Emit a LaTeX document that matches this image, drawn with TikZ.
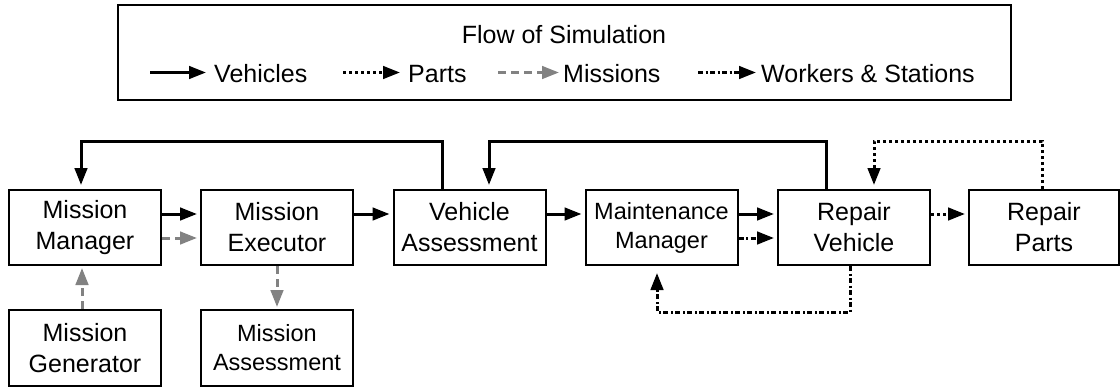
\documentclass[tikz,border=0pt]{standalone}
\usepackage{fontspec}
\setmainfont{Liberation Sans}
\usetikzlibrary{arrows.meta}
\definecolor{mgray}{RGB}{130,130,130}
\begin{document}
\begin{tikzpicture}[x=1pt,y=-1pt,
  box/.style={draw,line width=2pt,minimum width=152pt,minimum height=75pt,inner sep=0pt,align=center,font=\fontsize{25}{31}\selectfont},
  sbox/.style={box,font=\fontsize{23.5}{29}\selectfont},
  flow/.style={line width=3pt,-{Triangle[length=17pt,width=12.5pt]}},
  veh/.style={flow},
  parts/.style={flow,dash pattern=on 3pt off 3pt},
  miss/.style={flow,mgray,dash pattern=on 8pt off 5pt},
  work/.style={flow,dash pattern=on 5pt off 2.5pt on 2pt off 2.5pt},
  lab/.style={anchor=base west,inner sep=0pt,font=\fontsize{25}{31}\selectfont}]
\useasboundingbox (0,0) rectangle (1120,388);
% legend
\node[draw,line width=2pt,minimum width=893pt,minimum height=95pt,inner sep=0pt] (legend) at (564.5,52.5) {};
\node[anchor=base,inner sep=0pt,font=\fontsize{25}{31}\selectfont] (title) at (564,43) {Flow of Simulation};
\coordinate (v1) at (150,72.5); \coordinate (v2) at (206,72.5);
\coordinate (p1) at (343,72.5); \coordinate (p2) at (400,72.5);
\coordinate (m1) at (498,72.5); \coordinate (m2) at (559,72.5);
\coordinate (w1) at (698,72.5); \coordinate (w2) at (756,72.5);
\draw[veh] (v1) -- (v2);
\draw[parts] (p1) -- (p2);
\draw[miss] (m1) -- (m2);
\draw[work] (w1) -- (w2);
\node[lab] (lv) at (214,82) {Vehicles};
\node[lab] (lp) at (408,82) {Parts};
\node[lab] (lm) at (563,82) {Missions};
\node[lab] (lw) at (761,82) {Workers \& Stations};
% boxes
\node[box] (MM) at (85,227.5) {Mission\\Manager};
\node[box] (ME) at (277,227.5) {Mission\\Executor};
\node[box] (VA) at (469.5,227.5) {Vehicle\\Assessment};
\node[sbox] (MtM) at (661.5,227.5) {Maintenance\\Manager};
\node[box] (RV) at (854,227.5) {Repair\\Vehicle};
\node[box,minimum width=150pt] (RP) at (1044,227.5) {Repair\\Parts};
\node[box,minimum height=76pt] (MG) at (85,348) {Mission\\Generator};
\node[sbox,minimum height=76pt] (MA) at (277,348) {Mission\\Assessment};
% horizontal flows
\draw[veh,shorten >=3pt] ([yshift=13.5pt]MM.east) -- ([yshift=13.5pt]ME.west);
\draw[miss,shorten >=3pt] ([yshift=-10.5pt]MM.east) -- ([yshift=-10.5pt]ME.west);
\draw[veh,shorten >=3pt] ([yshift=13.5pt]ME.east) -- ([yshift=13.5pt]VA.west);
\draw[veh,shorten >=3pt] ([yshift=13.5pt]VA.east) -- ([yshift=13.5pt]MtM.west);
\draw[veh,shorten >=3pt] ([yshift=13.5pt]MtM.east) -- ([yshift=13.5pt]RV.west);
\draw[work,shorten >=3pt] ([yshift=-10.5pt]MtM.east) -- ([yshift=-10.5pt]RV.west);
\draw[parts,shorten >=3pt] ([yshift=13.5pt]RV.east) -- ([yshift=13.5pt]RP.west);
% vertical flows
\draw[miss,shorten >=2pt] ([xshift=-3pt]MG.north) -- ([xshift=-3pt]MM.south);
\draw[miss,shorten >=2pt] (ME.south) -- (MA.north);
% feedback loops
\draw[veh,shorten >=4pt] ([xshift=-27.5pt]VA.north) -- ++(0,-48) -| ([xshift=-4pt]MM.north);
\draw[veh,shorten >=4pt] ([xshift=-28pt]RV.north) -- ++(0,-48) -| ([xshift=19.5pt]VA.north);
\draw[parts,shorten >=4pt] ([xshift=-2pt]RP.north) -- ++(0,-48) -| ([xshift=20pt]RV.north);
\draw[work,shorten >=7pt] ([xshift=-4pt]RV.south) -- ++(0,46) -| ([xshift=-4.5pt]MtM.south);
\end{tikzpicture}
\end{document}
